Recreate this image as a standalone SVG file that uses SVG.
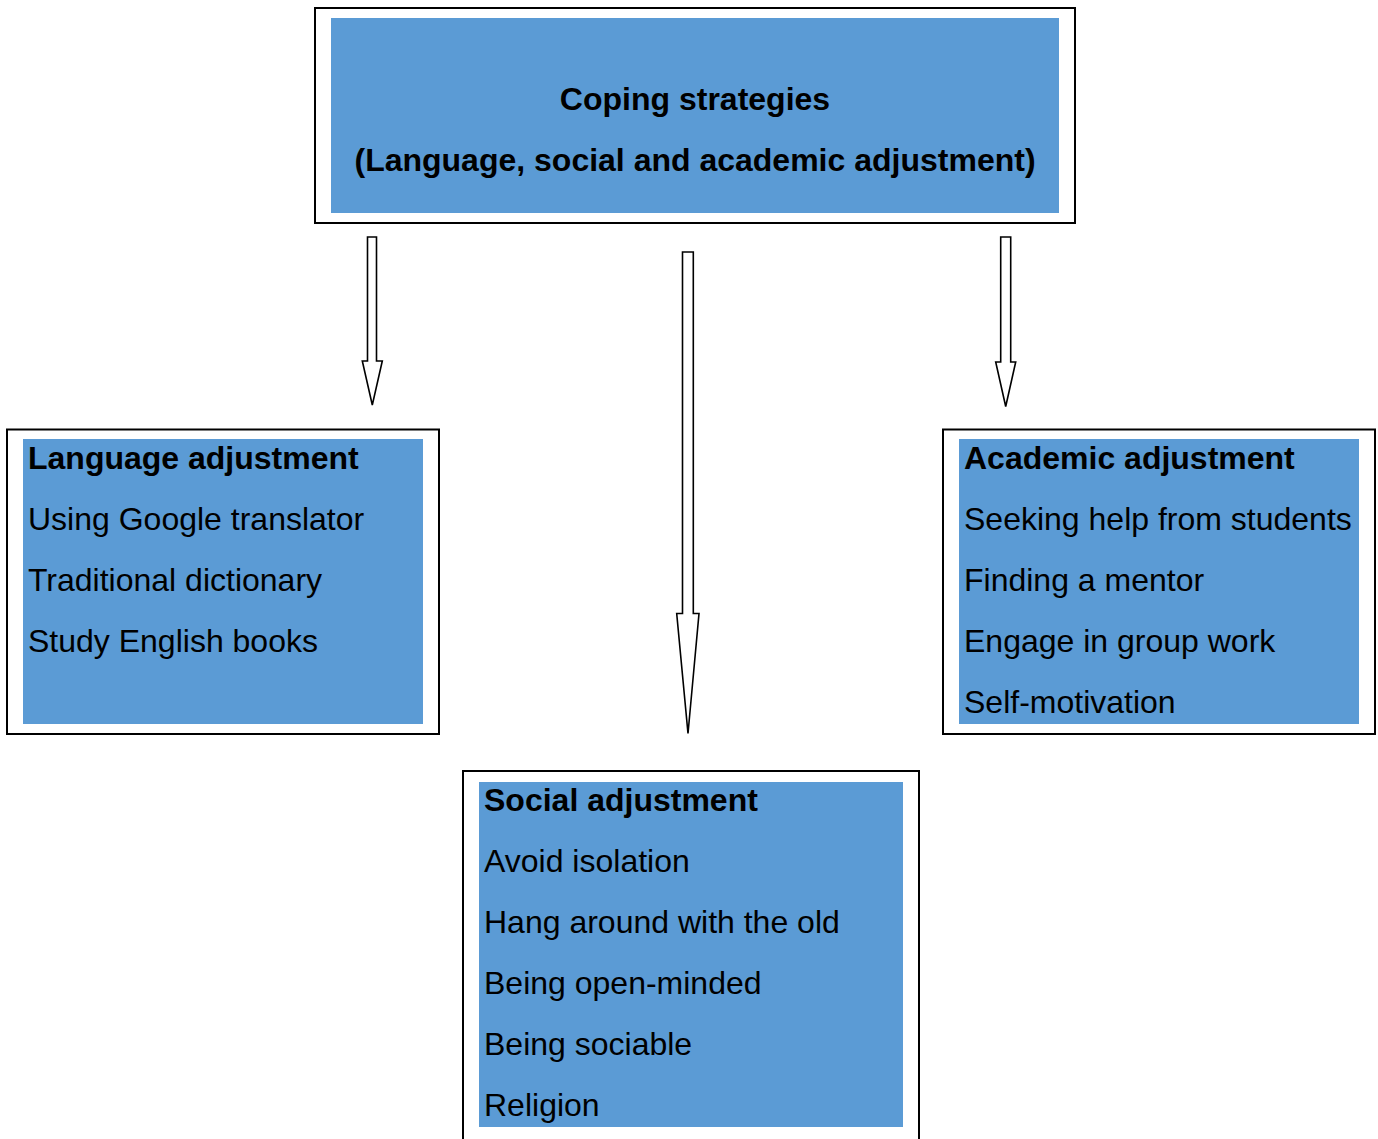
<svg xmlns="http://www.w3.org/2000/svg" width="1378" height="1139" viewBox="0 0 1378 1139">
<style>
.frame{fill:#fff;stroke:#000;stroke-width:2}
.fill{fill:#5B9BD5}
.t{font-family:"Liberation Sans",Arial,sans-serif;font-size:32px;fill:#000}
.b{font-weight:bold}
.arrow{fill:#fff;stroke:#000;stroke-width:1.6;stroke-linejoin:miter}
</style>
<rect width="1378" height="1139" fill="#fff"/>
<g id="connectors">
<polygon class="arrow" points="367.5,237 376.5,237 376.5,361 382.3,361 372.3,405 362.3,361 367.5,361"/>
<polygon class="arrow" points="682.5,252 693.3,252 693.3,613.5 699,613.5 688,733.5 676.7,613.5 682.5,613.5"/>
<polygon class="arrow" points="1000.7,237 1010.7,237 1010.7,362 1015.7,362 1005.7,406.5 995.7,362 1000.7,362"/>
</g>
<g id="top">
<rect class="frame" x="315" y="8" width="760" height="215"/>
<rect class="fill" x="331" y="18" width="728" height="195"/>
<text class="t b" x="695" y="110" text-anchor="middle">Coping strategies</text>
<text class="t b" x="695" y="171" text-anchor="middle">(Language, social and academic adjustment)</text>
</g>
<g id="language">
<rect class="frame" x="7" y="429.5" width="432" height="304.5"/>
<rect class="fill" x="23" y="439" width="400" height="285"/>
<text class="t b" x="28" y="469">Language adjustment</text>
<text class="t" x="28" y="530">Using Google translator</text>
<text class="t" x="28" y="591">Traditional dictionary</text>
<text class="t" x="28" y="652">Study English books</text>
</g>
<g id="academic">
<rect class="frame" x="943" y="429.5" width="432" height="304.5"/>
<rect class="fill" x="959" y="439" width="400" height="285"/>
<text class="t b" x="964" y="469">Academic adjustment</text>
<text class="t" x="964" y="530">Seeking help from students</text>
<text class="t" x="964" y="591">Finding a mentor</text>
<text class="t" x="964" y="652">Engage in group work</text>
<text class="t" x="964" y="713">Self-motivation</text>
</g>
<g id="social">
<rect class="frame" x="463" y="771" width="456" height="380"/>
<rect class="fill" x="479" y="782" width="424" height="345"/>
<text class="t b" x="484" y="811">Social adjustment</text>
<text class="t" x="484" y="872">Avoid isolation</text>
<text class="t" x="484" y="933">Hang around with the old</text>
<text class="t" x="484" y="994">Being open-minded</text>
<text class="t" x="484" y="1055">Being sociable</text>
<text class="t" x="484" y="1116">Religion</text>
</g>
</svg>
